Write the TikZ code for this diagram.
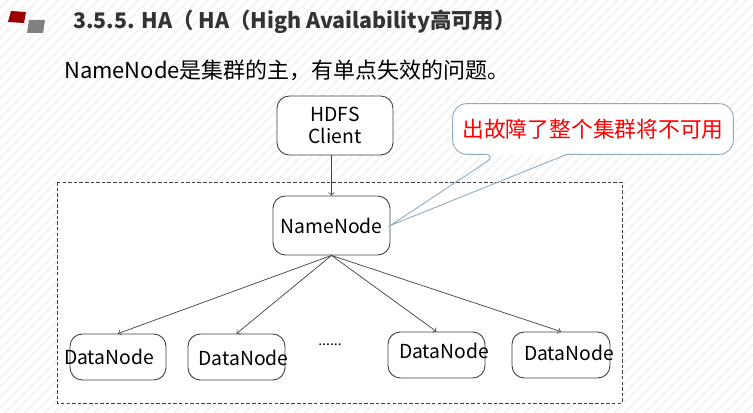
\documentclass[tikz,border=0pt]{standalone}
\usepackage{fontspec}
\setmainfont{Noto Sans CJK SC}
\usetikzlibrary{patterns.meta,calc}
\definecolor{boxline}{HTML}{404040}
\definecolor{calloutline}{HTML}{8EAAC0}
\definecolor{headred}{HTML}{9A0000}
\tikzset{
  nodebox/.style={draw=boxline, rounded corners=7pt, fill=white, line width=0.5pt},
  nodetext/.style={font=\fontsize{11}{12.5}\selectfont, inner sep=0pt},
  link/.style={draw=boxline, line width=0.4pt, ->},
}

\begin{document}
\begin{tikzpicture}[x=0.02cm, y=-0.02cm]
  \fill[white] (0,0) rectangle (753,412);
  \fill[pattern={Lines[angle=45,distance=4pt,line width=0.5pt]}, pattern color=black!9] (0,0) rectangle (753,412);
  \useasboundingbox (0,0) rectangle (753,412);

  % heading
  \fill[headred] (11,11) -- (26,12) -- (24,23) -- (8,22) -- cycle;
  \fill[gray] (29,20) -- (45,20) -- (43,33) -- (27,33) -- cycle;
  \node[anchor=west, font=\fontsize{12.2}{15}\selectfont\bfseries, text=black!80] (title) at (67,22) {3.5.5. HA（ HA（High Availability高可用）};
  \node[anchor=west, font=\fontsize{12.5}{14}\selectfont] (intro) at (58,70) {NameNode是集群的主，有单点失效的问题。};

  % cluster
  \draw[dash pattern=on 2pt off 1.2pt, fill=white, draw=boxline, line width=0.4pt] (57,182) rectangle (622,403);

  \node[nodebox, nodetext, minimum width=2.32cm, minimum height=1.18cm, align=center] (client) at (335,125.5) {HDFS\\Client};
  \node[nodebox, nodetext, minimum width=2.34cm, minimum height=1.18cm] (nn) at (331.5,225.5) {NameNode};

  \node[nodebox, minimum width=1.92cm, minimum height=0.92cm] (dn1) at (118,357) {};
  \node[nodebox, minimum width=1.94cm, minimum height=0.92cm] (dn2) at (236.5,357) {};
  \node[nodebox, minimum width=1.94cm, minimum height=0.92cm] (dn3) at (436.5,355) {};
  \node[nodebox, minimum width=1.96cm, minimum height=0.92cm] (dn4) at (561,355) {};
  \node[nodetext] (dn1t) at (109,357) {DataNode};
  \node[nodetext] (dn2t) at (243.5,358) {DataNode};
  \node[nodetext] (dn3t) at (444,351) {DataNode};
  \node[nodetext] (dn4t) at (569,353) {DataNode};
  \node[font=\fontsize{8}{9}\selectfont] (dots) at (330,345) {......};

  \draw[link] (nn.north |- client.south) -- (nn.north);
  \draw[link] (nn.south) -- (dn1.north);
  \draw[link] (nn.south) -- (dn2.north);
  \draw[link] (nn.south) -- (dn3.north);
  \draw[link] (nn.south) -- (dn4.north);

  % callout
  \node[fill=white, rounded corners=8pt, minimum width=5.6cm, minimum height=1cm, text=red, font=\fontsize{12.4}{14}\selectfont] (note) at (593,129) {出故障了整个集群将不可用};
  \coordinate (p1) at ($(note.south west)!0.161!(note.south east)$);
  \coordinate (p2) at ($(note.south west)!0.407!(note.south east)$);
  \draw[calloutline, line width=0.5pt] (p2) [rounded corners=8pt] -- (note.south east) -- (note.north east) -- (note.north west) -- (note.south west) -- (p1) [sharp corners] -- (nn.east) -- cycle;
\end{tikzpicture}
\end{document}
